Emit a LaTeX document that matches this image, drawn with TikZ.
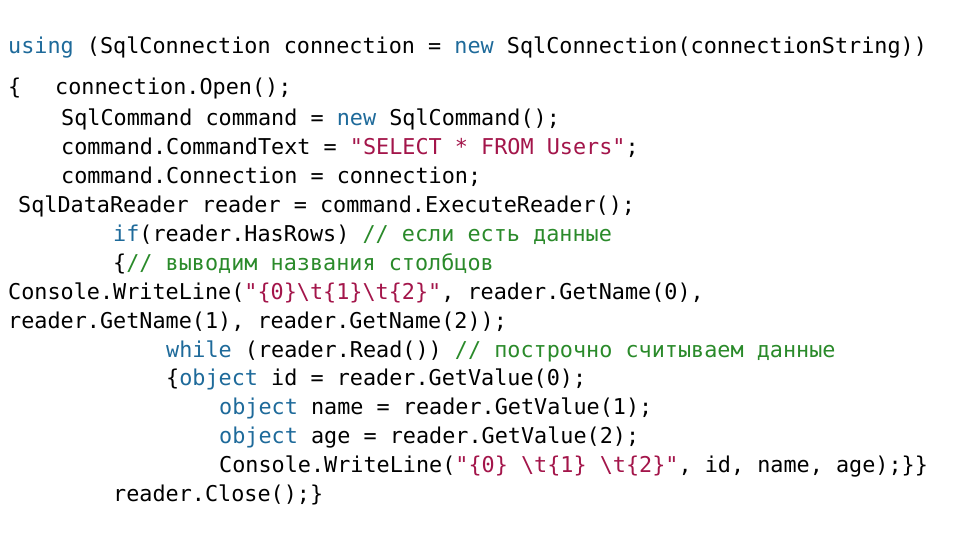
\documentclass[tikz,border=0pt]{standalone}
\usepackage{fontspec}
\newfontfamily\code{DejaVu Sans Mono}
\definecolor{kw}{HTML}{1E6A9A}
\definecolor{st}{HTML}{A3154A}
\definecolor{cm}{HTML}{2A8A2A}
\newcommand{\K}[1]{\textcolor{kw}{#1}}
\newcommand{\Sx}[1]{\textcolor{st}{#1}}
\newcommand{\Cm}[1]{\textcolor{cm}{#1}}
\newcommand{\bs}{\textbackslash}
\begin{document}
\begin{tikzpicture}[x=1pt,y=1pt,cl/.style={anchor=base west,inner sep=0pt,font=\code\fontsize{21.8}{24}\selectfont}]
\useasboundingbox (0,0) rectangle (960,540);
\node[cl] (l1) at (8,486) {\K{using} (SqlConnection connection = \K{new} SqlConnection(connectionString))};
\node[cl] (l2a) at (8,445) {\{};
\node[cl] (l2) at (55,445) {connection.Open();};
\node[cl] (l3) at (61,414) {SqlCommand command = \K{new} SqlCommand();};
\node[cl] (l4) at (61,385) {command.CommandText = \Sx{"SELECT * FROM Users"};};
\node[cl] (l5) at (61,356) {command.Connection = connection;};
\node[cl] (l6) at (18,327) {SqlDataReader reader = command.ExecuteReader();};
\node[cl] (l7) at (113,298) {\K{if}(reader.HasRows) \Cm{// если есть данные}};
\node[cl] (l8) at (113,269) {\{\Cm{// выводим названия столбцов}};
\node[cl] (l9) at (8,240) {Console.WriteLine(\Sx{"\{0\}\bs t\{1\}\bs t\{2\}"}, reader.GetName(0),};
\node[cl] (l10) at (8,211) {reader.GetName(1), reader.GetName(2));};
\node[cl] (l11) at (166,182) {\K{while} (reader.Read()) \Cm{// построчно считываем данные}};
\node[cl] (l12) at (166,154) {\{\K{object} id = reader.GetValue(0);};
\node[cl] (l13) at (219,125) {\K{object} name = reader.GetValue(1);};
\node[cl] (l14) at (219,96) {\K{object} age = reader.GetValue(2);};
\node[cl] (l15) at (219,67) {Console.WriteLine(\Sx{"\{0\} \bs t\{1\} \bs t\{2\}"}, id, name, age);\}\}};
\node[cl] (l16) at (113,38) {reader.Close();\}};
\end{tikzpicture}
\end{document}
